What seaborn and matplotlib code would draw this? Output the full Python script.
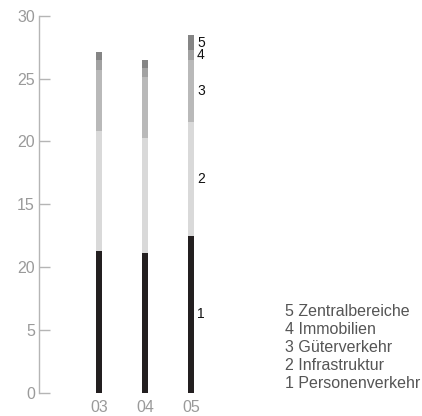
import numpy as np
import pandas as pd
import matplotlib
matplotlib.use("Agg")
import matplotlib.pyplot as plt
import seaborn as sns

# Years on the x axis
years = ["03", "04", "05"]

# Segment values per year (bottom to top)
personenverkehr = [11.3, 11.1, 12.5]
infrastruktur = [9.55, 9.2, 9.05]
gueterverkehr = [4.85, 4.8, 4.9]
immobilien = [0.8, 0.75, 0.8]
zentralbereiche = [0.65, 0.6, 1.2]

segment_names = ["Personenverkehr", "Infrastruktur", "Güterverkehr",
                 "Immobilien", "Zentralbereiche"]
segment_colors = ["#231f20", "#d9d9d9", "#b9b9b9", "#a2a2a2", "#858585"]

y_ticks = [0, 5, 10, 15, 20, 25, 30]
y_tick_labels = ["0", "5", "20", "15", "20", "25", "30"]

sns.set_theme(style="white")
plt.rcParams["font.family"] = ["Liberation Sans", "DejaVu Sans"]

fig = plt.figure(figsize=(4.22, 4.16), dpi=100)
W, H = 422, 416
ax_left, ax_right, ax_top, ax_bot = 39, 223, 15.7, 393
ax = fig.add_axes([ax_left / W, 1 - ax_bot / H,
                   (ax_right - ax_left) / W, (ax_bot - ax_top) / H])

series = [personenverkehr, infrastruktur, gueterverkehr, immobilien, zentralbereiche]
cum = np.cumsum(np.array(series), axis=0)

# Stacked bars: draw cumulative totals from the top segment downwards
for i in range(len(series) - 1, -1, -1):
    df = pd.DataFrame({"year": years, "value": cum[i]})
    sns.barplot(data=df, x="year", y="value", color=segment_colors[i],
                width=0.13, errorbar=None, linewidth=0, saturation=1, ax=ax)

ax.set_xlim(-1.304, 2.696)
ax.set_ylim(0, 30)
ax.set_xlabel("")
ax.set_ylabel("")

for s in ["top", "right", "bottom"]:
    ax.spines[s].set_visible(False)
ax.spines["left"].set_color("#b5b5b5")
ax.spines["left"].set_linewidth(1.0)

ax.set_yticks(y_ticks)
ax.set_yticklabels(y_tick_labels)
ax.tick_params(axis="y", direction="in", length=8, width=1.0, color="#b5b5b5",
               labelcolor="#9a9a9a", labelsize=11.5, pad=3, left=True)
ax.tick_params(axis="x", length=0, labelcolor="#9a9a9a", labelsize=11.5, pad=5)

# Segment numbers beside the last bar
last = len(years) - 1
bottoms = np.vstack([np.zeros(len(years)), cum[:-1]])
for i in range(len(series)):
    mid = bottoms[i, last] + series[i][last] / 2
    ax.text(last + 0.13, mid, str(i + 1), color="#111111", fontsize=10,
            va="center", ha="left")

# Legend as numbered text lines
for k, i in enumerate(range(len(series) - 1, -1, -1)):
    y_px = 312 + 17.8 * k
    fig.text(285 / W, 1 - y_px / H, f"{i + 1} {segment_names[i]}",
             color="#555555", fontsize=11.5, va="center", ha="left")

fig.savefig("out.png", dpi=100)
